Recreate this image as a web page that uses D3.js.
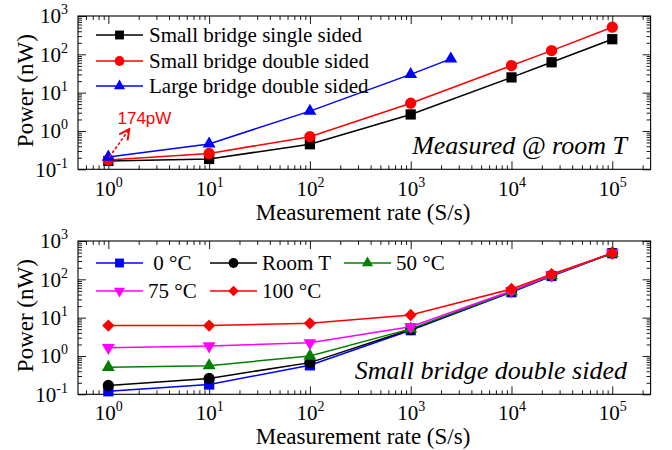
<!DOCTYPE html>
<html lang="en">
<head>
    <meta charset="UTF-8">
    <title>Power vs measurement rate</title>
    <script src="https://d3js.org/d3.v7.min.js"></script>
    <style>
        body { margin: 0; background: #fff; }
        svg text { font-family: "Liberation Serif", "Times New Roman", serif; }
    </style>
</head>
<body>
    <svg id="chart" width="672" height="450"></svg>
    <script>
        // Data (power in nW, rate in S/s)
        const rates = [1, 10, 100, 1000, 10000, 25000, 100000];
        const largeRates = [1, 10, 100, 1000, 2500];

        // top panel: measured @ room T
        const smallSingle = [0.165, 0.186, 0.45, 2.7, 25, 62, 248];
        const smallDouble = [0.174, 0.26, 0.71, 5.3, 51, 125, 510];
        const largeDouble = [0.21, 0.46, 3.3, 30, 76];

        // bottom panel: small bridge double sided vs temperature
        const temp0 = [0.12, 0.18, 0.57, 4.7, 46, 122, 480];
        const tempRoom = [0.17, 0.26, 0.67, 4.9, 48, 124, 485];
        const temp50 = [0.51, 0.56, 1.0, 5.1, 48, 125, 480];
        const temp75 = [1.65, 1.82, 2.2, 5.8, 50, 127, 490];
        const temp100 = [6.2, 6.2, 7.1, 11.7, 56, 136, 480];

        const xMajors = [1, 10, 100, 1000, 10000, 100000];
        const yMajors = [0.1, 1, 10, 100, 1000];

        const svg = d3.select("#chart");

        const x = d3.scaleLog().domain([0.5, 2.4e5]).range([78, 650.6]);

        // minor ticks 2..9 per decade
        function minors(lo, hi, d0, d1) {
            const out = [];
            for (let d = d0; d <= d1; d++) {
                for (let k = 2; k <= 9; k++) {
                    const v = k * Math.pow(10, d);
                    if (v > lo && v < hi) out.push(v);
                }
            }
            return out;
        }
        const xMinors = minors(0.5, 2.4e5, -1, 5);
        const yMinors = minors(0.1, 1000, -1, 2);

        function powLabel(sel) {
            sel.text(null).each(function(d) {
                const t = d3.select(this);
                const e = Math.round(Math.log10(d));
                t.append("tspan").text("10");
                t.append("tspan").attr("dy", -9).attr("font-size", 14).text(e);
            });
        }

        function drawPanel(p) {
            const y = d3.scaleLog().domain([0.1, 1000]).range([p.bottom, p.top]);
            const g = svg.append("g");
            const ink = "#000";

            // axes with inward ticks on all four sides
            const axes = [
                [d3.axisBottom(x), "translate(0," + p.bottom + ")", xMajors, xMinors],
                [d3.axisTop(x), "translate(0," + p.top + ")", xMajors, xMinors],
                [d3.axisLeft(y), "translate(" + x.range()[0] + ",0)", yMajors, yMinors],
                [d3.axisRight(y), "translate(" + x.range()[1] + ",0)", yMajors, yMinors]
            ];
            axes.forEach(([ax, tr, maj, mn], i) => {
                const gm = g.append("g").attr("transform", tr)
                    .call(ax.tickValues(mn).tickSize(-4).tickFormat(""));
                gm.select(".domain").remove();
                const gM = g.append("g").attr("transform", tr)
                    .call(ax.tickValues(maj).tickSize(-8).tickPadding(10)
                        .tickFormat(i === 0 || i === 2 ? d => d : ""));
                gM.select(".domain").remove();
                if (i === 0) {
                    gM.selectAll(".tick text").attr("y", p.tickY).attr("dy", 0).call(powLabel);
                }
                if (i === 2) {
                    gM.selectAll(".tick text").attr("dy", "0.32em").call(powLabel);
                }
                gM.selectAll(".tick text").attr("font-size", 21).attr("fill", "#000");
            });
            g.selectAll(".tick line").attr("stroke", ink).attr("stroke-width", 0.9);

            g.append("rect")
                .attr("x", x.range()[0]).attr("y", p.top)
                .attr("width", x.range()[1] - x.range()[0])
                .attr("height", p.bottom - p.top)
                .attr("fill", "none").attr("stroke", ink).attr("stroke-width", 1.1);

            // series
            const line = d3.line().x(d => x(d[0])).y(d => y(d[1]));
            p.series.forEach(s => {
                const pts = s.xs.map((v, i) => [v, s.ys[i]]);
                g.append("path").datum(pts).attr("d", line)
                    .attr("fill", "none").attr("stroke", s.color).attr("stroke-width", 1.5);
                g.selectAll(null).data(pts).enter().append("path")
                    .attr("d", d3.symbol(s.shape.type, s.shape.size)())
                    .attr("transform", d => "translate(" + x(d[0]) + "," + y(d[1]) + ") rotate(" + s.shape.rot + ")")
                    .attr("fill", s.color);
            });

            // legend (markers drawn a bit smaller than in the plot)
            p.legend.forEach(l => {
                const s = l.s;
                g.append("line")
                    .attr("x1", l.x).attr("x2", l.x + 47).attr("y1", l.y).attr("y2", l.y)
                    .attr("stroke", s.color).attr("stroke-width", 1.5);
                g.append("path")
                    .attr("d", d3.symbol(s.shape.type, s.shape.size * 0.75)())
                    .attr("transform", "translate(" + (l.x + 23.5) + "," + l.y + ") rotate(" + s.shape.rot + ")")
                    .attr("fill", s.color);
                g.append("text")
                    .attr("x", l.x + l.dx).attr("y", l.y).attr("dy", "0.34em")
                    .attr("font-size", 21).style("white-space", "pre")
                    .text(s.name);
            });

            // axis titles
            g.append("text")
                .attr("x", 363).attr("y", p.bottom + p.titleGap)
                .attr("text-anchor", "middle").attr("font-size", 23)
                .text("Measurement rate (S/s)");
            g.append("text")
                .attr("transform", "translate(33," + ((p.top + p.bottom) / 2 - 2) + ") rotate(-90)")
                .attr("text-anchor", "middle").attr("font-size", 23)
                .text("Power (nW)");

            // panel caption
            g.append("text")
                .attr("x", 627).attr("y", p.bottom - 15)
                .attr("text-anchor", "end").attr("font-size", 26).attr("font-style", "italic")
                .text(p.caption);

            return y;
        }

        const sq = { type: d3.symbolSquare, size: 105, rot: 0 };
        const ci = { type: d3.symbolCircle, size: 100, rot: 0 };
        const tr = { type: d3.symbolTriangle, size: 72, rot: 0 };
        const trDown = { type: d3.symbolTriangle, size: 72, rot: 180 };
        const dia = { type: d3.symbolSquare, size: 76, rot: 45 };

        const sSingle = { name: "Small bridge single sided", xs: rates, ys: smallSingle, color: "#000", shape: sq };
        const sDouble = { name: "Small bridge double sided", xs: rates, ys: smallDouble, color: "#ff0000", shape: ci };
        const sLarge = { name: "Large bridge double sided", xs: largeRates, ys: largeDouble, color: "#0000ff", shape: tr };

        const yTop = drawPanel({
            top: 16, bottom: 169.3, titleGap: 51, tickY: 27,
            caption: "Measured @ room T",
            series: [sSingle, sDouble, sLarge],
            legend: [
                { s: sSingle, x: 96, y: 35, dx: 53 },
                { s: sDouble, x: 96, y: 61, dx: 53 },
                { s: sLarge, x: 96, y: 86, dx: 53 }
            ]
        });

        const t0 = { name: " 0 °C", xs: rates, ys: temp0, color: "#0000ff", shape: sq };
        const tR = { name: "Room T", xs: rates, ys: tempRoom, color: "#000", shape: ci };
        const t50 = { name: "50 °C", xs: rates, ys: temp50, color: "#008000", shape: tr };
        const t75 = { name: "75 °C", xs: rates, ys: temp75, color: "#ff00ff", shape: trDown };
        const t100 = { name: "100 °C", xs: rates, ys: temp100, color: "#ff0000", shape: dia };

        drawPanel({
            top: 241, bottom: 394.3, titleGap: 49.5, tickY: 26,
            caption: "Small bridge double sided",
            series: [t0, tR, t50, t75, t100],
            legend: [
                { s: t0, x: 96, y: 263, dx: 52 },
                { s: tR, x: 210, y: 263, dx: 52 },
                { s: t50, x: 344, y: 263, dx: 52 },
                { s: t75, x: 96, y: 291, dx: 52 },
                { s: t100, x: 210, y: 291, dx: 52 }
            ]
        });

        // 174 pW annotation with dashed arrow
        svg.append("defs").append("marker")
            .attr("id", "head").attr("viewBox", "0 0 10 10")
            .attr("refX", 9).attr("refY", 5)
            .attr("markerWidth", 8).attr("markerHeight", 8)
            .attr("orient", "auto")
            .append("path").attr("d", "M1,1 L9,5 L1,9")
            .attr("fill", "none").attr("stroke", "#ff0000").attr("stroke-width", 1.5);
        svg.append("line")
            .attr("x1", x(1) + 1).attr("y1", yTop(0.174) - 3)
            .attr("x2", x(1) + 21).attr("y2", yTop(0.174) - 31)
            .attr("stroke", "#ff0000").attr("stroke-width", 1.6)
            .attr("stroke-dasharray", "3,2")
            .attr("marker-end", "url(#head)");
        svg.append("text")
            .attr("x", 117.5).attr("y", 124)
            .style("font-family", "'Liberation Sans', Arial, sans-serif")
            .attr("font-size", 17).attr("fill", "#ff0000")
            .text("174pW");
    </script>
</body>
</html>
